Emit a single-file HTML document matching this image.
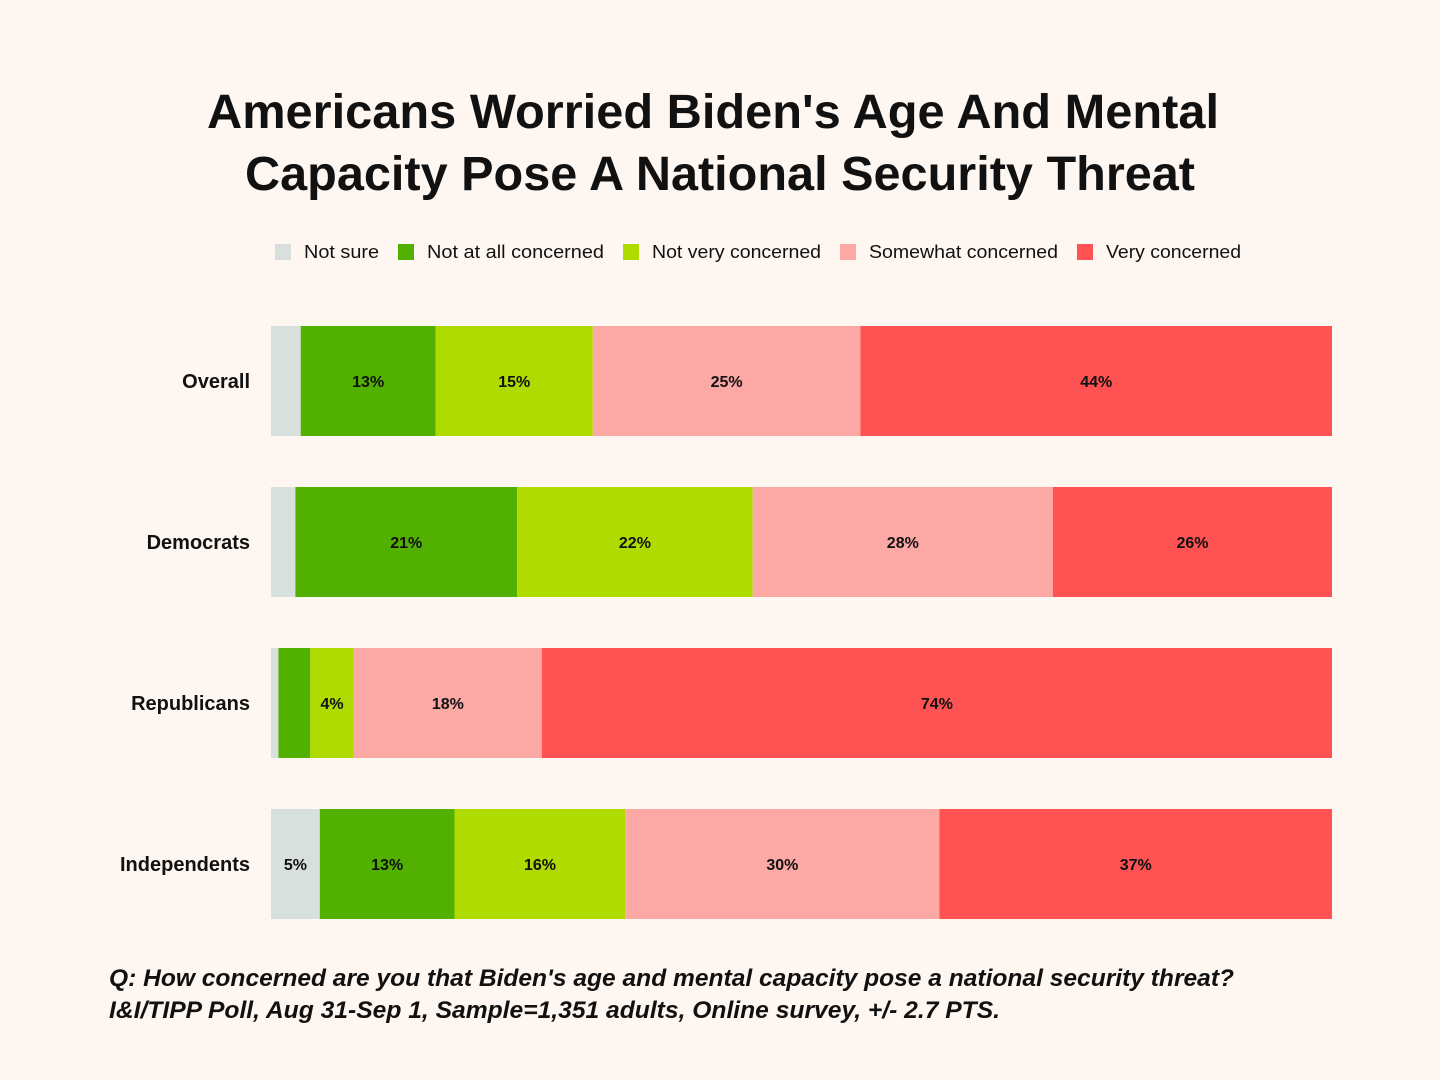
<!DOCTYPE html>
<html><head><meta charset="utf-8"><style>
html,body{margin:0;padding:0;background:#fef6f0;}
svg{display:block;font-family:"Liberation Sans",sans-serif;}
</style></head><body>
<svg id="chart" width="1440" height="1080" viewBox="0 0 1440 1080" xmlns="http://www.w3.org/2000/svg">
<rect width="1440" height="1080" fill="#fef6f0"/>
<g font-weight="bold" font-size="48" fill="#111" text-anchor="middle">
<text x="713" y="128" textLength="1012" lengthAdjust="spacingAndGlyphs">Americans Worried Biden's Age And Mental</text>
<text x="720" y="190" textLength="950" lengthAdjust="spacingAndGlyphs">Capacity Pose A National Security Threat</text>
</g>
<g id="legend"></g>
<g id="bars"></g>
<g font-style="italic" font-weight="bold" font-size="24" fill="#111">
<text x="109" y="986" textLength="1125" lengthAdjust="spacingAndGlyphs">Q: How concerned are you that Biden's age and mental capacity pose a national security threat?</text>
<text x="109" y="1018" textLength="891" lengthAdjust="spacingAndGlyphs">I&amp;I/TIPP Poll, Aug 31-Sep 1, Sample=1,351 adults, Online survey, +/- 2.7 PTS.</text>
</g>
</svg>
<script>
const categories = ["Overall","Democrats","Republicans","Independents"];
const seriesNames = ["Not sure","Not at all concerned","Not very concerned","Somewhat concerned","Very concerned"];
const notSure = [2.8,2.3,0.7,4.6];
const notAtAll = [12.7,20.9,3.0,12.7];
const notVery = [14.8,22.2,4.1,16.1];
const somewhat = [25.2,28.3,17.7,29.6];
const very = [44.4,26.3,74.4,37.0];
const colors = ["#d7e0dc","#52b000","#b0db00","#fca8a5","#ff5252"];
const series = [notSure,notAtAll,notVery,somewhat,very];
const NS="http://www.w3.org/2000/svg";
const x0=271, x1=1332, y0=326, step=161, bh=110;
function xScale(frac){return x0+frac*(x1-x0);}
function yScale(i){return y0+i*step;}
const bars=document.getElementById('bars');
categories.forEach((c,i)=>{
  const t=document.createElementNS(NS,'text');
  t.setAttribute('x',250);t.setAttribute('y',yScale(i)+bh/2+7);
  t.setAttribute('text-anchor','end');t.setAttribute('font-size','20');t.setAttribute('font-weight','bold');t.setAttribute('fill','#111');
  t.textContent=c;
  
  
  bars.appendChild(t);
  let total=0; series.forEach(s=>total+=s[i]);
  let cum=0;
  series.forEach((s,k)=>{
    const v=s[i];
    const xa=xScale(cum/total), xb=xScale((cum+v)/total);
    const r=document.createElementNS(NS,'rect');
    r.setAttribute('x',xa);r.setAttribute('y',yScale(i));r.setAttribute('width',xb-xa);r.setAttribute('height',bh);r.setAttribute('fill',colors[k]);
    
    
    bars.appendChild(r);
    if(v>=3.5){
      const l=document.createElementNS(NS,'text');
      l.setAttribute('x',(xa+xb)/2);l.setAttribute('y',yScale(i)+bh/2+6);l.setAttribute('text-anchor','middle');
      l.setAttribute('font-size','16');l.setAttribute('font-weight','bold');l.setAttribute('fill','#111');
      l.textContent=Math.round(v)+'%';
      
      
      bars.appendChild(l);
    }
    cum+=v;
  });
});
const legend=document.getElementById('legend');
const legX=[275,398,623,840,1077];
const legW=[75,177,169,189,135];
seriesNames.forEach((n,k)=>{
  const r=document.createElementNS(NS,'rect');
  r.setAttribute('x',legX[k]);r.setAttribute('y',244);r.setAttribute('width',16);r.setAttribute('height',16);r.setAttribute('fill',colors[k]);
  
  
  legend.appendChild(r);
  const t=document.createElementNS(NS,'text');
  t.setAttribute('x',legX[k]+29);t.setAttribute('y',258);t.setAttribute('font-size','18');t.setAttribute('fill','#111');
  t.setAttribute('textLength',legW[k]);t.setAttribute('lengthAdjust','spacingAndGlyphs');
  t.textContent=n;
  
  
  legend.appendChild(t);
});
</script>
</body></html>
